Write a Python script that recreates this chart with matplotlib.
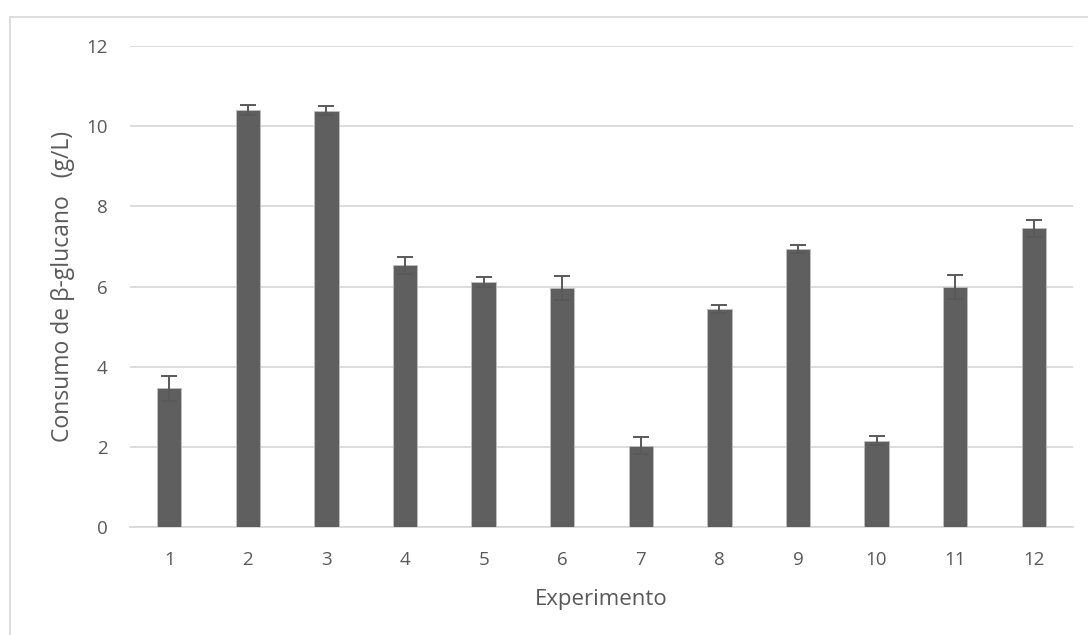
import matplotlib.pyplot as plt
from matplotlib.patches import Rectangle

# Data
experimentos = [1, 2, 3, 4, 5, 6, 7, 8, 9, 10, 11, 12]
consumo = [3.46, 10.40, 10.39, 6.53, 6.12, 5.96, 2.03, 5.44, 6.94, 2.15, 5.99, 7.45]
desvio = [0.31, 0.12, 0.11, 0.21, 0.12, 0.30, 0.21, 0.11, 0.10, 0.11, 0.30, 0.21]
y_ticks = [0, 2, 4, 6, 8, 10, 12]

plt.rcParams["font.family"] = ["Open Sans", "DejaVu Sans"]
text_color = "#595959"
grid_color = "#d9d9d9"

fig = plt.figure(figsize=(10.88, 6.35), dpi=100)
ax = fig.add_axes([130 / 1088, 108 / 635, 943 / 1088, 481 / 635])

# Light frame around the chart area (as in the spreadsheet export)
fig.patches.append(Rectangle((9.5 / 1088, -0.1), 1.2, (635 - 17.5) / 635 + 0.1,
                             transform=fig.transFigure, fill=False,
                             edgecolor=grid_color, linewidth=1.3))

ax.bar(experimentos, consumo, width=0.31, color="#5f5f5f",
       edgecolor="#bfbfbf", linewidth=0.6, zorder=3)
ax.errorbar(experimentos, consumo, yerr=desvio, fmt="none",
            ecolor="#595959", elinewidth=1.4, capsize=6, capthick=1.4, zorder=4)

ax.set_xlim(0.5, 12.5)
ax.set_ylim(0, 12)
ax.set_yticks(y_ticks)
ax.set_xticks(experimentos)
ax.yaxis.grid(True, color=grid_color, linewidth=1.3, zorder=0)
ax.set_axisbelow(True)

for side in ["top", "right", "left"]:
    ax.spines[side].set_visible(False)
ax.spines["bottom"].set_color(grid_color)
ax.spines["bottom"].set_linewidth(1.3)

ax.tick_params(axis="both", length=0, labelsize=13.5, labelcolor=text_color)
ax.tick_params(axis="x", pad=17)
ax.tick_params(axis="y", pad=16)

ax.set_xlabel("Experimento", fontsize=16, color=text_color, va="center")
ax.set_ylabel("Consumo de β-glucano   (g/L)", fontsize=16.5, color=text_color, va="center")
ax.xaxis.set_label_coords(0.5, (527 - 600) / 481)
ax.yaxis.set_label_coords((63 - 130) / 943, 0.5)

fig.savefig("out.png", dpi=100)
